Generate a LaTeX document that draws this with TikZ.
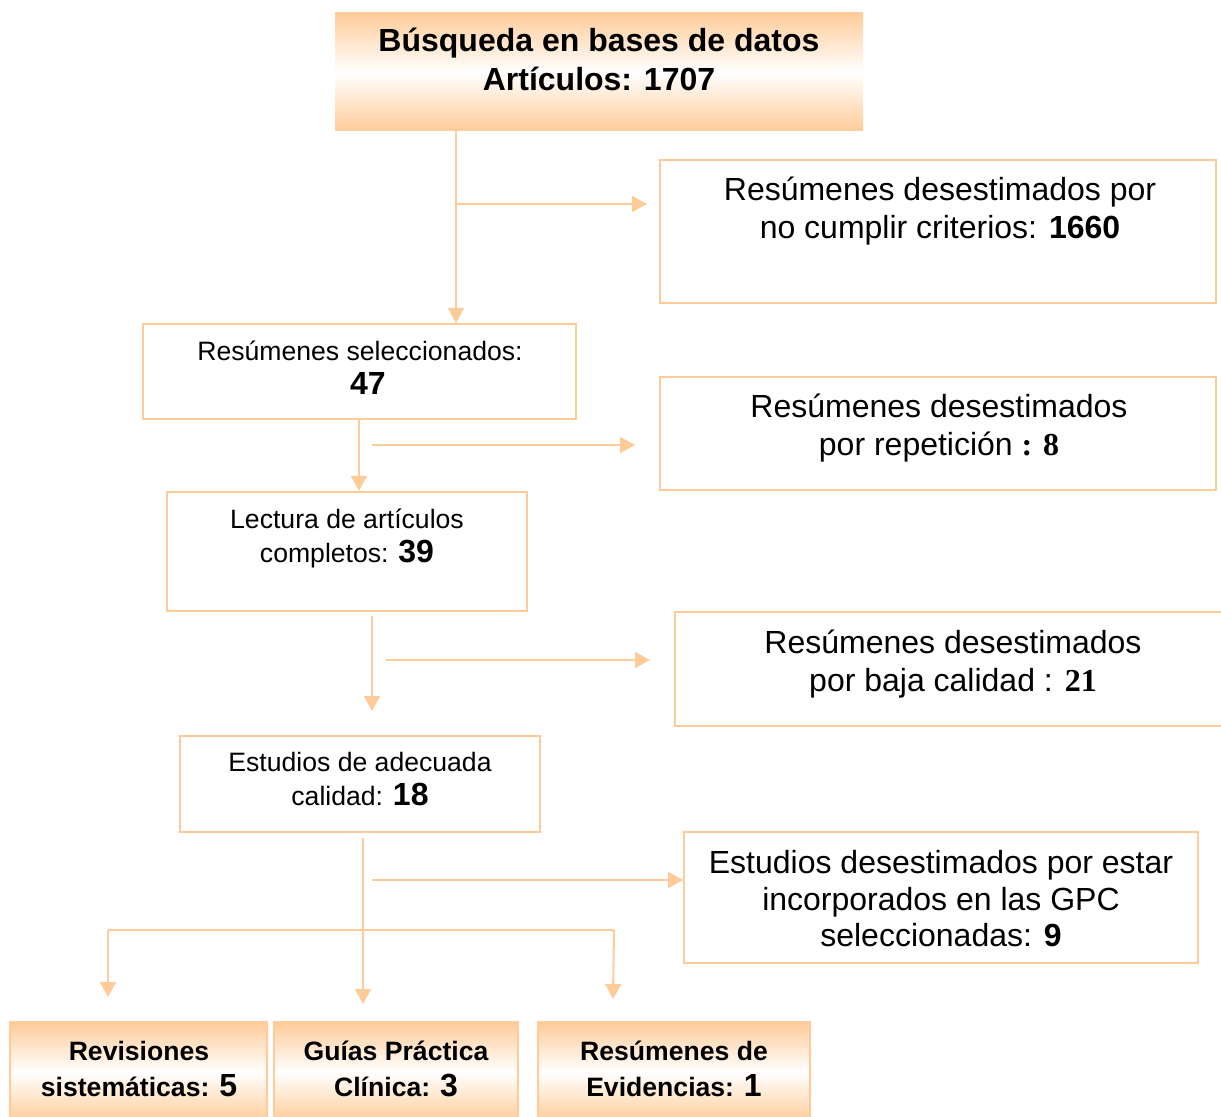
\documentclass[tikz,border=0pt]{standalone}
\usepackage{fontspec}
\setmainfont{Liberation Sans}
\newfontfamily\tnr{Liberation Serif}
\usetikzlibrary{arrows.meta}
\definecolor{peach}{RGB}{255,204,153}
\tikzstyle{bx}=[draw=peach,line width=1pt,inner sep=0pt]
\tikzstyle{shd}=[inner sep=0pt,top color=peach,bottom color=peach,middle color=white]
\tikzstyle{ln}=[draw=peach,line width=1pt]
\tikzstyle{arr}=[ln,-{Triangle[length=7.5pt,width=8pt]}]
\tikzstyle{big}=[align=center,inner sep=0pt,font=\fontsize{16}{19}\selectfont]
\tikzstyle{sml}=[align=center,inner sep=0pt,font=\fontsize{13.3}{17}\selectfont]
\newcommand{\bnum}[1]{{\fontsize{16}{17}\selectfont\bfseries #1}}

\begin{document}
\begin{tikzpicture}[x=0.5pt,y=-0.5pt]
\clip (0,0) rectangle (1221,1117);
\node[shd,minimum width=264pt,minimum height=59pt] (busq) at (599,72) {};
\node[big,font=\fontsize{16}{19.5}\selectfont\bfseries] (busqt) at (599,59) {Búsqueda en bases de datos\\Artículos: 1707};
\node[bx,minimum width=278pt,minimum height=71.5pt] (desc1) at (938,231.5) {};
\node[big] (desc1t) at (940,211) {Resúmenes desestimados por\\no cumplir criterios: \textbf{1660}};
\node[bx,minimum width=216.5pt,minimum height=47.5pt] (sel) at (359.5,371.5) {};
\node[sml] (selt) at (360,368) {Resúmenes seleccionados:\\\hspace*{8pt}\bnum{47}};
\node[bx,minimum width=278pt,minimum height=56.5pt] (desc2) at (938,433.5) {};
\node[big] (desc2t) at (939,428) {Resúmenes desestimados\\por repetición {\tnr\bfseries : 8}};
\node[bx,minimum width=180pt,minimum height=59.5pt] (lect) at (347,551.5) {};
\node[sml] (lectt) at (347,538) {Lectura de artículos\\completos: \bnum{39}};
\node[bx,minimum width=277.5pt,minimum height=57pt] (desc3) at (952.5,669) {};
\node[big] (desc3t) at (953,664) {Resúmenes desestimados\\por baja calidad : {\tnr\bfseries 21}};
\node[bx,minimum width=180pt,minimum height=48pt] (est) at (360,784) {};
\node[sml] (estt) at (360,779.5) {Estudios de adecuada\\calidad: \bnum{18}};
\node[bx,minimum width=257pt,minimum height=65.5pt] (desc4) at (941,897.5) {};
\node[big,font=\fontsize{16}{18.25}\selectfont] (desc4t) at (941,899) {Estudios desestimados por estar\\incorporados en las GPC\\seleccionadas: \textbf{9}};
\node[shd,draw=peach,line width=1pt,minimum width=128.5pt,minimum height=50pt] (rs) at (138.5,1072) {};
\node[sml,font=\fontsize{13.3}{18}\selectfont\bfseries] (rst) at (139,1069) {Revisiones\\sistemáticas: \bnum{5}};
\node[shd,draw=peach,line width=1pt,minimum width=122pt,minimum height=50pt] (gpc) at (396,1072) {};
\node[sml,font=\fontsize{13.3}{18}\selectfont\bfseries] (gpct) at (396,1069) {Guías Práctica\\Clínica: \bnum{3}};
\node[shd,draw=peach,line width=1pt,minimum width=136pt,minimum height=50pt] (evi) at (674,1072) {};
\node[sml,font=\fontsize{13.3}{18}\selectfont\bfseries] (evit) at (674,1069) {Resúmenes de\\Evidencias: \bnum{1}};
\coordinate (a1) at (456,204); \coordinate (a2) at (647,204);
\coordinate (b0) at (359,0); \coordinate (b1) at (372,445); \coordinate (b2) at (635,445);
\coordinate (c1) at (372,616); \coordinate (c2) at (372,711); \coordinate (c3) at (386,660); \coordinate (c4) at (650,660);
\coordinate (d1) at (363,838); \coordinate (d2) at (363,1004); \coordinate (d3) at (372,880);
\coordinate (e1) at (108,930); \coordinate (e2) at (614,930); \coordinate (e3) at (108,997); \coordinate (e4) at (613,999);
\draw[arr] (busq.south -| a1) -- (sel.north -| a1);
\draw[arr] (a1) -- (a2);
\draw[arr] (sel.south -| b0) -- (lect.north -| b0);
\draw[arr] (b1) -- (b2);
\draw[arr] (c1) -- (c2);
\draw[arr] (c3) -- (c4);
\draw[arr] (d1) -- (d2);
\draw[arr] (d3) -- (desc4.west |- d3);
\draw[ln] (e1) -- (e2);
\draw[arr] (e1) -- (e3);
\draw[arr] (e2) -- (e4);
\end{tikzpicture}
\end{document}
